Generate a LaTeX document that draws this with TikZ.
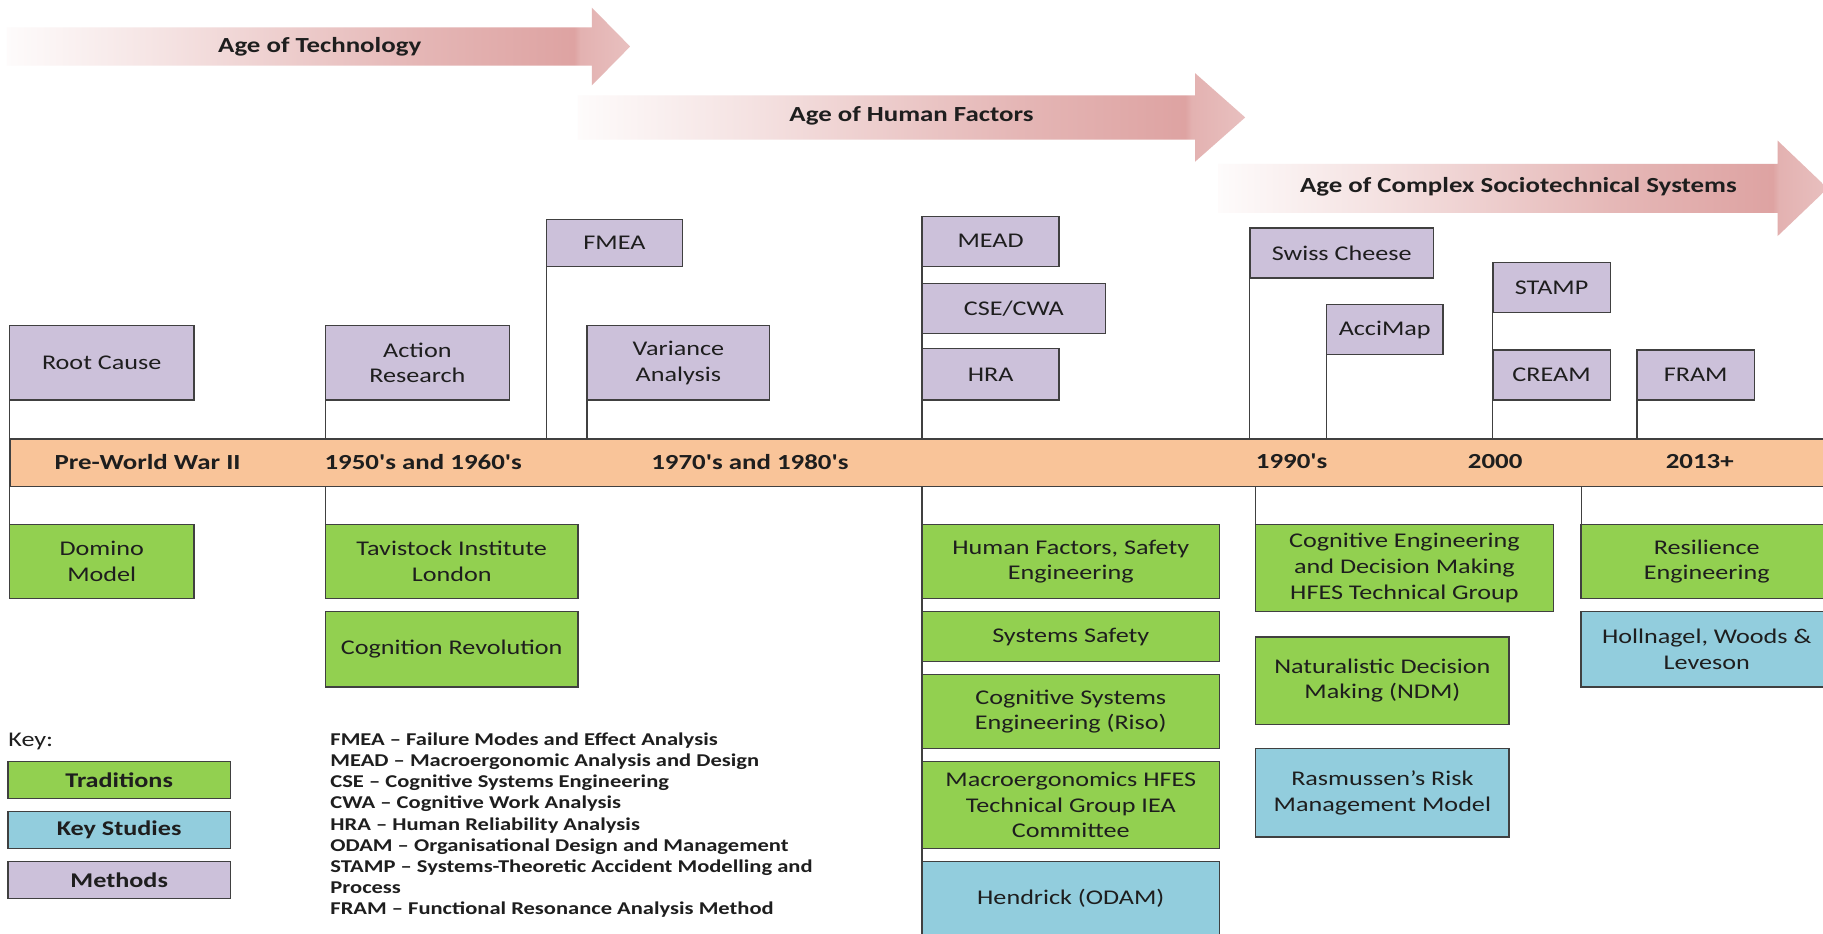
\documentclass[tikz,border=0pt]{standalone}
\usepackage{fontspec}
\setmainfont{Carlito}[FakeStretch=1.25, Ligatures=TeXOff]

\definecolor{lav}{RGB}{204,193,218}
\definecolor{leaf}{RGB}{146,208,80}
\definecolor{sky}{RGB}{146,205,221}
\definecolor{peach}{RGB}{249,196,153}
\definecolor{rosy}{RGB}{220,158,157}
\definecolor{edge}{RGB}{64,64,64}
\definecolor{ink}{RGB}{30,30,30}

% horizontal fade of the era arrows (path spans 25bp..75bp)
\pgfdeclarehorizontalshading{agefade}{100bp}{%
  color(0bp)=(white); color(25bp)=(rosy!4!white); color(38bp)=(rosy!30!white);
  color(58bp)=(rosy!75!white); color(70.5bp)=(rosy!95!white); color(71bp)=(rosy!80!white);
  color(75bp)=(rosy!65!white); color(100bp)=(rosy!65!white)}

% era arrow: tail x, head base x, tip x, centre y, half shaft, half head
\newcommand\agearrow[6]{%
  \path[shading=agefade] (#1,#4-#5) -- (#2,#4-#5) -- (#2,#4-#6) -- (#3,#4)
    -- (#2,#4+#6) -- (#2,#4+#5) -- (#1,#4+#5) -- cycle;}

\begin{document}
\begin{tikzpicture}[x=1pt, y=-1pt,
  box/.style={draw=edge, line width=1.2pt, inner sep=2pt, outer sep=0pt,
    align=center, anchor=north west, text=ink,
    font=\fontsize{18}{22}\selectfont},
  method/.style={box, fill=lav},
  tradition/.style={box, fill=leaf},
  study/.style={box, fill=sky},
  keybox/.style={box, font=\fontsize{18}{22}\selectfont\bfseries},
  yeartext/.style={text=ink, inner sep=0pt, font=\fontsize{18.5}{22}\selectfont\bfseries},
  agetext/.style={text=ink, inner sep=0pt, font=\fontsize{18.5}{22}\selectfont\bfseries},
  conn/.style={draw=edge, line width=1.1pt}]

\useasboundingbox (0,0) rectangle (1568,803);
\fill[white] (0,0) rectangle (1568,803);

% era arrows
\agearrow{6}{509}{542}{40}{16.5}{33.5}
\agearrow{497}{1028}{1071}{101}{19}{38}
\agearrow{1048}{1529}{1572}{162}{21}{41}
\node[agetext] (ageT) at (275,40) {Age of Technology};
\node[agetext] (ageH) at (784,100) {Age of Human Factors};
\node[agetext] (ageC) at (1306,161) {Age of Complex Sociotechnical Systems};

% timeline band
\node[draw=edge, line width=1.2pt, fill=peach, anchor=north west, inner sep=0pt,
  minimum width=1580, minimum height=41] (tl) at (8,377) {};
\node[yeartext] (y1) at (127,397) {Pre-World War II};
\node[yeartext] (y2) at (364,397) {1950's and 1960's};
\node[yeartext] (y3) at (645,397) {1970's and 1980's};
\node[yeartext] (y4) at (1111,397) {1990's};
\node[yeartext] (y5) at (1286,397) {2000};
\node[yeartext] (y6) at (1462,397) {2013+};

% methods above the timeline
\node[method, minimum width=159, minimum height=64] (rc) at (8,280) {Root Cause};
\node[method, minimum width=158, minimum height=64] (ar) at (280,280) {Action\\Research};
\node[method, minimum width=117, minimum height=40] (fmea) at (470,189) {FMEA};
\node[method, minimum width=157, minimum height=64] (va) at (505,280) {Variance\\Analysis};
\node[method, minimum width=118, minimum height=43] (mead) at (793,186) {MEAD};
\node[method, minimum width=158, minimum height=43] (csecwa) at (793,244) {CSE/CWA};
\node[method, minimum width=118, minimum height=44] (hra) at (793,300) {HRA};
\node[method, minimum width=158, minimum height=43] (swiss) at (1075,196) {Swiss Cheese};
\node[method, minimum width=100, minimum height=43] (acci) at (1141,262) {AcciMap};
\node[method, minimum width=101, minimum height=43] (stamp) at (1284,226) {STAMP};
\node[method, minimum width=101, minimum height=43] (cream) at (1284,301) {CREAM};
\node[method, minimum width=101, minimum height=43] (fram) at (1408,301) {FRAM};

% traditions and key studies below the timeline
\node[tradition, minimum width=159, minimum height=64] (dom) at (8,451) {Domino\\Model};
\node[tradition, minimum width=217, minimum height=64] (tav) at (280,451) {Tavistock Institute\\London};
\node[tradition, minimum width=217, minimum height=65] (cog) at (280,526) {Cognition Revolution};
\node[tradition, minimum width=256, minimum height=64] (hf) at (793,451) {Human Factors, Safety\\Engineering};
\node[tradition, minimum width=256, minimum height=43] (ss) at (793,526) {Systems Safety};
\node[tradition, minimum width=256, minimum height=64] (cse) at (793,580) {Cognitive Systems\\Engineering (Riso)};
\node[tradition, minimum width=256, minimum height=75] (macro) at (793,655) {Macroergonomics HFES\\Technical Group IEA\\Committee};
\node[study, minimum width=256, minimum height=64] (hend) at (793,741) {Hendrick (ODAM)};
\node[tradition, minimum width=256, minimum height=75] (cedm) at (1080,451) {Cognitive Engineering\\and Decision Making\\HFES Technical Group};
\node[tradition, minimum width=218, minimum height=75] (ndm) at (1080,548) {Naturalistic Decision\\Making (NDM)};
\node[study, minimum width=218, minimum height=76] (ras) at (1080,644) {Rasmussen’s Risk\\Management Model};
\node[tradition, minimum width=216, minimum height=64] (res) at (1360,451) {Resilience\\Engineering};
\node[study, minimum width=216, minimum height=65] (holl) at (1360,526) {Hollnagel, Woods \&\\Leveson};

% stems joining the boxes to the timeline
\foreach \b in {rc, ar, fmea, va, mead, swiss, acci, stamp, fram}
  \draw[conn] (\b.south west) -- (\b.south west |- tl.north);
\foreach \b in {dom, tav, cedm, res}
  \draw[conn] (tl.south -| \b.north west) -- (\b.north west);
\draw[conn] (tl.south -| hf.north west) -- (hend.north west);

% key
\node[anchor=west, inner sep=0pt, text=ink, font=\fontsize{18}{22}\selectfont] (key) at (7,638) {Key:};
\node[keybox, fill=leaf, minimum width=191, minimum height=32] (ktrad) at (7,655) {Traditions};
\node[keybox, fill=sky, minimum width=191, minimum height=32] (kstudy) at (7,698) {Key Studies};
\node[keybox, fill=lav, minimum width=191, minimum height=32] (kmeth) at (7,741) {Methods};

% acronyms
\node[anchor=north west, align=left, inner sep=0pt, text=ink,
  font=\fontsize{15.5}{18.2}\selectfont\bfseries] (acr) at (284,630) {%
  FMEA – Failure Modes and Effect Analysis\\
  MEAD – Macroergonomic Analysis and Design\\
  CSE – Cognitive Systems Engineering\\
  CWA – Cognitive Work Analysis\\
  HRA – Human Reliability Analysis\\
  ODAM – Organisational Design and Management\\
  STAMP – Systems-Theoretic Accident Modelling and\\
  Process\\
  FRAM – Functional Resonance Analysis Method};
\end{tikzpicture}
\end{document}
